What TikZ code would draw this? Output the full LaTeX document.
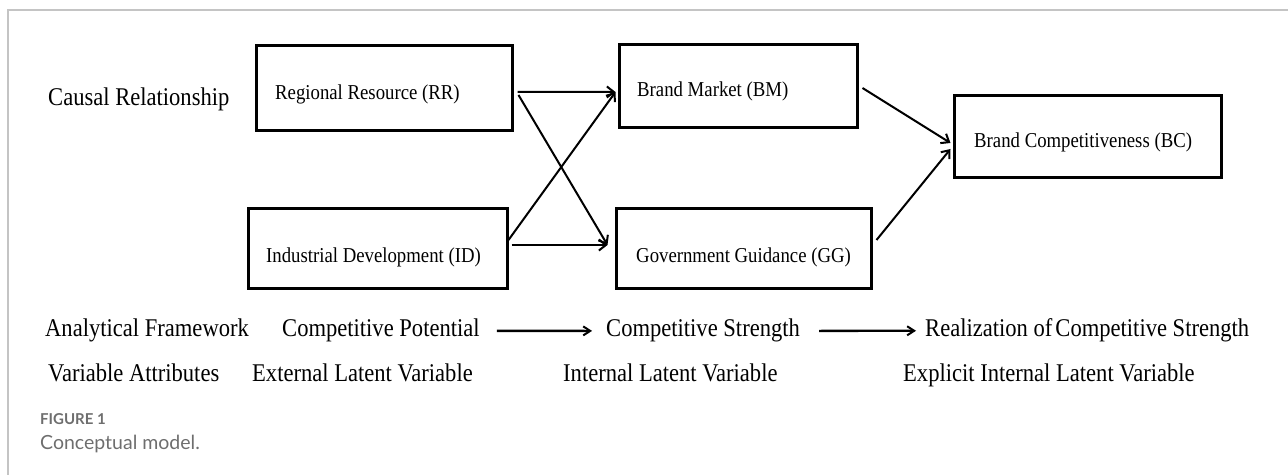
\documentclass[tikz,border=0pt]{standalone}
\usepackage{fontspec}
\setmainfont{Liberation Serif}[FakeStretch=0.885]
\newfontfamily\capfont{Lato}
\usetikzlibrary{arrows.meta}
\definecolor{framegray}{HTML}{C4C4C4}
\definecolor{capgray}{HTML}{6E6E6E}
\tikzset{
  varbox/.style={draw=black, line width=3bp, rectangle, inner sep=0pt},
  boxtext/.style={anchor=base west, inner sep=0pt, font=\fontsize{21.2bp}{25bp}\selectfont},
  rowtext/.style={anchor=base west, inner sep=0pt, font=\fontsize{25.5bp}{30bp}\selectfont},
  link/.style={line width=2bp, -{Straight Barb[length=7bp,width=11bp,line width=2bp]}},
  flow/.style={line width=2.3bp, -{Straight Barb[length=7bp,width=9bp,line width=2bp]}}
}
\begin{document}
\begin{tikzpicture}[x=1bp,y=-1bp]
\useasboundingbox (0,0) rectangle (1288,475);
% outer frame (top and left edges)
\draw[framegray, line width=1.5bp] (8,475) -- (8,10) -- (1288,10);

% latent variable boxes
\node[varbox, minimum width=256bp, minimum height=85bp] (RR) at (384,88) {};
\node[varbox, minimum width=238bp, minimum height=83bp] (BM) at (738,86.5) {};
\node[varbox, minimum width=259bp, minimum height=80bp] (ID) at (377.5,249) {};
\node[varbox, minimum width=255bp, minimum height=80bp] (GG) at (743.5,249) {};
\node[varbox, minimum width=267bp, minimum height=82bp] (BC) at (1087.5,137) {};

\node[boxtext] (RRt) at (275,100) {Regional Resource (RR)};
\node[boxtext] (BMt) at (637,97) {Brand Market (BM)};
\node[boxtext] (IDt) at (266,263) {Industrial Development (ID)};
\node[boxtext] (GGt) at (636,263) {Government Guidance (GG)};
\node[boxtext] (BCt) at (974,148) {Brand Competitiveness (BC)};

% causal paths
\draw[link] ([shift={(4,4)}]RR.east) -- ([shift={(-2,5.5)}]BM.west);
\draw[link] ([shift={(5,7)}]RR.east) -- ([shift={(-7,-4)}]GG.west);
\draw[link] ([shift={(0,-9)}]ID.east) -- ([shift={(-2,5.5)}]BM.west);
\draw[link] ([shift={(3,-4)}]ID.east) -- ([shift={(-7,-4)}]GG.west);
\draw[link] ([shift={(4,1.5)}]BM.east) -- ([shift={(-2,6)}]BC.west);
\draw[link] ([shift={(4,-9)}]GG.east) -- ([shift={(-2,12)}]BC.west);

% row labels
\node[rowtext] (causal) at (48,106) {Causal Relationship};
\node[rowtext] (frame) at (45,337) {Analytical Framework};
\node[rowtext] (attr) at (48,382) {Variable Attributes};

% analytical framework row
\node[rowtext] (pot) at (282,337) {Competitive Potential};
\node[rowtext] (str) at (606,337) {Competitive Strength};
\node[rowtext] (real) at (925,337) {Realization of\hspace{0.12em}Competitive Strength};
\draw[flow] ([xshift=17]pot.east) -- ([xshift=-14]str.west);
\draw[flow] ([xshift=19]str.east) -- ([xshift=-9]real.west);

% variable attributes row
\node[rowtext] (ext) at (252,382) {External Latent Variable};
\node[rowtext] (int) at (563,382) {Internal Latent Variable};
\node[rowtext] (expl) at (903,382) {Explicit Internal Latent Variable};

% caption
\node[anchor=base west, inner sep=0pt, text=capgray, font=\capfont\bfseries\fontsize{15bp}{17bp}\selectfont] (fig) at (40,425) {FIGURE 1};
\node[anchor=base west, inner sep=0pt, text=capgray, font=\capfont\fontsize{19.5bp}{22bp}\selectfont] (cap) at (40,450) {Conceptual model.};
\end{tikzpicture}
\end{document}
